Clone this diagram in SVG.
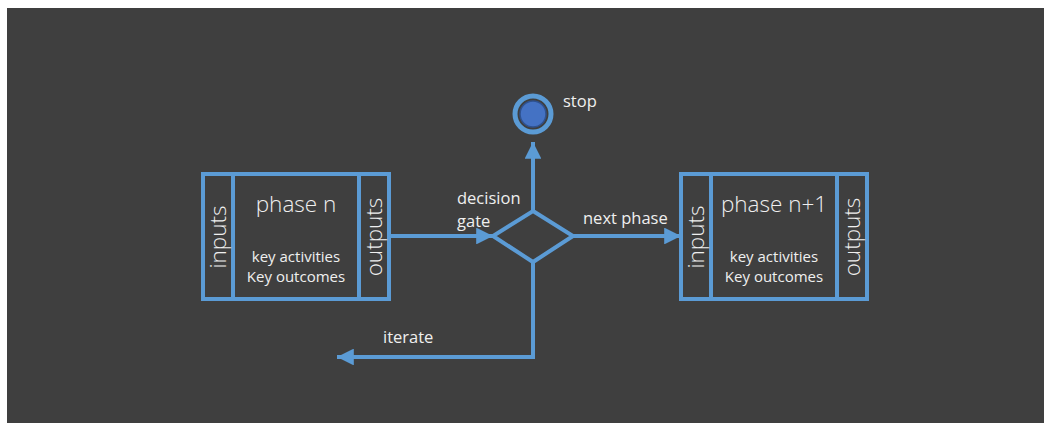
<svg xmlns="http://www.w3.org/2000/svg" width="1051" height="423" viewBox="0 0 1051 423">
  <defs>
    <marker id="arr" viewBox="0 0 10 10" refX="10" refY="5" markerWidth="4.2" markerHeight="4.2" markerUnits="strokeWidth" orient="auto">
      <path d="M0,0 L10,5 L0,10 z" fill="#5b9bd5"/>
    </marker>
    <style>
      .box { fill: none; stroke: #5b9bd5; stroke-width: 4; }
      .line { fill: none; stroke: #5b9bd5; stroke-width: 4; }
      text { font-family: "Open Sans", "Liberation Sans", sans-serif; fill: #efefef; }
      .title { font-size: 22.5px; font-weight: 300; text-anchor: middle; }
      .side { font-size: 22.5px; font-weight: 300; text-anchor: middle; }
      .body { font-size: 15px; text-anchor: middle; }
      .lbl { font-size: 16.5px; }
    </style>
  </defs>
  <rect x="0" y="0" width="1051" height="423" fill="#ffffff"/>
  <rect x="7" y="8" width="1037" height="415" fill="#3f3f3f"/>

  <g id="connectors">
    <line class="line" x1="389" y1="236" x2="493" y2="236" marker-end="url(#arr)"/>
    <line class="line" x1="533" y1="211" x2="533" y2="142" marker-end="url(#arr)"/>
    <line class="line" x1="573" y1="236" x2="681" y2="236" marker-end="url(#arr)"/>
    <polyline class="line" points="533,262 533,357 337,357" marker-end="url(#arr)"/>
  </g>

  <g id="phase-n">
    <rect class="box" x="203" y="174" width="30" height="125"/>
    <rect class="box" x="233" y="174" width="126" height="125"/>
    <rect class="box" x="359" y="174" width="30" height="125"/>
    <text class="side" transform="translate(226,237) rotate(-90)">inputs</text>
    <text class="side" transform="translate(382,237) rotate(-90)">outputs</text>
    <text class="title" x="296" y="212">phase n</text>
    <text class="body" x="296" y="262">key activities</text>
    <text class="body" x="296" y="282">Key outcomes</text>
  </g>

  <g id="decision-gate">
    <polygon class="box" points="533,211 573,236 533,262 493,236"/>
    <text class="lbl" x="457" y="204">decision</text>
    <text class="lbl" x="457" y="227">gate</text>
  </g>

  <g id="stop">
    <circle cx="533" cy="114" r="18" fill="#3f3f3f" stroke="#5b9bd5" stroke-width="5"/>
    <circle cx="533" cy="114" r="13" fill="#4472c4" stroke="#2f528f" stroke-width="1.5"/>
    <text class="lbl" x="563" y="107">stop</text>
  </g>

  <g id="phase-n1">
    <rect class="box" x="681" y="174" width="30" height="125"/>
    <rect class="box" x="711" y="174" width="126" height="125"/>
    <rect class="box" x="837" y="174" width="30" height="125"/>
    <text class="side" transform="translate(704,237) rotate(-90)">inputs</text>
    <text class="side" transform="translate(860,237) rotate(-90)">outputs</text>
    <text class="title" x="774" y="212">phase n+1</text>
    <text class="body" x="774" y="262">key activities</text>
    <text class="body" x="774" y="282">Key outcomes</text>
  </g>

  <g id="labels">
    <text class="lbl" x="583" y="224">next phase</text>
    <text class="lbl" x="383" y="343">iterate</text>
  </g>
</svg>
